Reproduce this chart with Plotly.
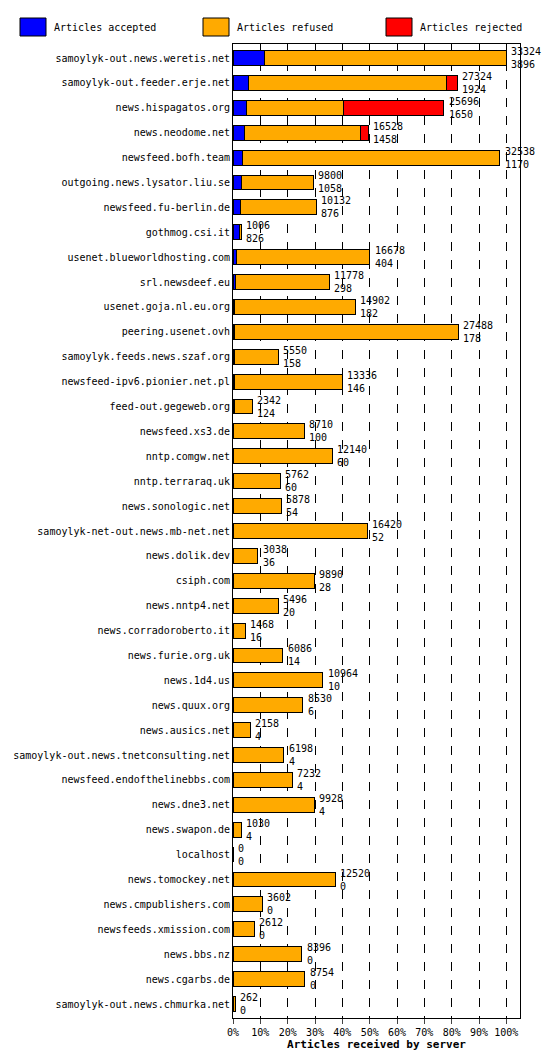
import plotly.graph_objects as go

servers = ["samoylyk-out.news.weretis.net","samoylyk-out.feeder.erje.net","news.hispagatos.org","news.neodome.net","newsfeed.bofh.team","outgoing.news.lysator.liu.se","newsfeed.fu-berlin.de","gothmog.csi.it","usenet.blueworldhosting.com","srl.newsdeef.eu","usenet.goja.nl.eu.org","peering.usenet.ovh","samoylyk.feeds.news.szaf.org","newsfeed-ipv6.pionier.net.pl","feed-out.gegeweb.org","newsfeed.xs3.de","nntp.comgw.net","nntp.terraraq.uk","news.sonologic.net","samoylyk-net-out.news.mb-net.net","news.dolik.dev","csiph.com","news.nntp4.net","news.corradoroberto.it","news.furie.org.uk","news.1d4.us","news.quux.org","news.ausics.net","samoylyk-out.news.tnetconsulting.net","newsfeed.endofthelinebbs.com","news.dne3.net","news.swapon.de","localhost","news.tomockey.net","news.cmpublishers.com","newsfeeds.xmission.com","news.bbs.nz","news.cgarbs.de","samoylyk-out.news.chmurka.net"]
total = [33324,27324,25696,16528,32538,9800,10132,1006,16678,11778,14902,27488,5550,13336,2342,8710,12140,5762,5878,16420,3038,9890,5496,1468,6086,10964,8530,2158,6198,7232,9928,1030,0,12520,3602,2612,8396,8754,262]
accepted = [3896,1924,1650,1458,1170,1058,876,826,404,298,182,178,158,146,124,100,60,60,54,52,36,28,20,16,14,10,6,4,4,4,4,4,0,0,0,0,0,0,0]
rejected = [0,1340,12200,940,0,0,0,0,0,0,0,0,0,0,0,0,0,0,0,0,0,0,0,0,0,0,0,0,0,0,0,0,0,0,0,0,0,0,0]
refused = [t-a-r for t,a,r in zip(total,accepted,rejected)]
legend_names = ["Articles accepted", "Articles refused", "Articles rejected"]
colors = ["#0000ff", "#ffaa00", "#ff0000"]

mx = max(total)
font = "DejaVu Sans Mono, Liberation Mono, monospace"

fig = go.Figure()
for name, vals, col in zip(legend_names, [accepted, refused, rejected], colors):
    fig.add_trace(go.Bar(y=servers, x=[v/mx*100 for v in vals], name=name, orientation="h",
                         marker=dict(color=col, line=dict(color="black", width=1)),
                         width=0.6, showlegend=False))

for s, t, a in zip(servers, total, accepted):
    fig.add_annotation(x=t/mx*100 + 1, y=s, text=f"{t}<br>{a}", showarrow=False,
                       xanchor="left", align="left", font=dict(size=10, family=font, color="black"))

# legend drawn manually across the top
W, H = 550, 1055
for i, (name, col) in enumerate(zip(legend_names, colors)):
    x0 = 12 + i * 183
    fig.add_shape(type="rect", xref="paper", yref="paper",
                  x0=(x0 - 225) / (W - 225 - 38), x1=(x0 + 26 - 225) / (W - 225 - 38),
                  y0=1 + (36 - 28) / (H - 36 - 45), y1=1 + (36 - 10) / (H - 36 - 45),
                  fillcolor=col, line=dict(color="black", width=1))
    fig.add_annotation(xref="paper", yref="paper", x=(x0 + 32 - 225) / (W - 225 - 38),
                       y=1 + (36 - 19) / (H - 36 - 45), text=name, showarrow=False,
                       xanchor="left", yanchor="middle", font=dict(size=10, family=font))

fig.update_layout(
    width=W, height=H, barmode="stack", bargap=0.4,
    paper_bgcolor="white", plot_bgcolor="white",
    margin=dict(l=225, r=38, t=36, b=45, autoexpand=False),
    font=dict(family=font, size=10, color="black"),
    showlegend=False,
    xaxis=dict(range=[0,105], tickvals=list(range(0,101,10)),
               ticktext=[f"{v}%" for v in range(0,101,10)],
               showgrid=True, gridcolor="black", griddash="dash", gridwidth=1,
               showline=True, linecolor="black", mirror=True, ticks="outside",
               automargin=False,
               title=dict(text="<b>Articles received by server</b>", font=dict(size=11), standoff=2)),
    yaxis=dict(autorange="reversed", showline=True, linecolor="black", mirror=True,
               ticks="", tickfont=dict(size=10), automargin=False),
)
fig.write_html("out.html")
